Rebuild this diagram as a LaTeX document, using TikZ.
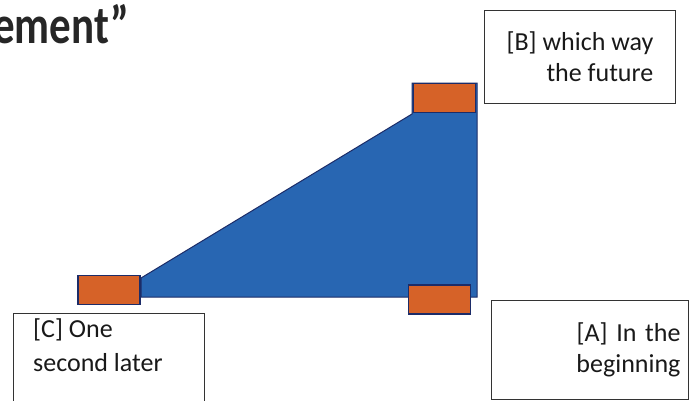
\documentclass[tikz,border=0pt]{standalone}
\usepackage{fontspec}
\setmainfont{Carlito}
\definecolor{padorange}{RGB}{214,98,40}
\definecolor{slopeblue}{RGB}{40,102,178}
\definecolor{edgenavy}{RGB}{28,44,104}
\tikzset{
  font=\fontsize{26}{31}\selectfont,
  pad/.style   ={draw=edgenavy, line width=1.8pt, fill=padorange, minimum width=62pt, minimum height=29pt, inner sep=0pt},
  lbox/.style  ={draw=black!80, line width=0.9pt, text=black!90, inner ysep=4pt},
  heading/.style={font=\fontsize{43}{50}\selectfont\bfseries, text=black!85, inner sep=0pt},
}

\begin{document}
\begin{tikzpicture}[x=1pt,y=-1pt]
  \useasboundingbox (0,0) rectangle (693,400);
  \clip (0,0) rectangle (693,400);
  % the slope
  \fill[slopeblue, draw=edgenavy, line width=1pt]
    (141,297) -- (141,278) -- (412,114) -- (412,83) -- (477,83) -- (477,297) -- cycle;
  \node[pad] (padC) at (109,290) {};
  \node[pad] (padA) at (439.5,299.5) {};
  \node[pad] (padB) at (444.5,98) {};
  \node[heading, anchor=base east] (head) at (129,43) {\scalebox{1}[1.25]{ement”}};
  % labels
  \node[lbox, anchor=north west, minimum width=191pt, minimum height=93pt,
        align=right] (boxB) at (484,10) {[B] which way\\the future};
  \node[lbox, anchor=north west, minimum width=197pt, minimum height=99pt,
        text width=181pt, inner xsep=6pt, align=right] (boxA) at (491,299.5) {[A] In the\\beginning};
  \node[lbox, anchor=north west, minimum width=191pt, minimum height=120pt] (boxC) at (13,313) {};
  \node[anchor=north west, align=left, inner sep=0pt, text=black!90]
    (textC) at ([xshift=20pt,yshift=-6pt]boxC.north west) {[C] One\\[3pt]second later};
\end{tikzpicture}
\end{document}
